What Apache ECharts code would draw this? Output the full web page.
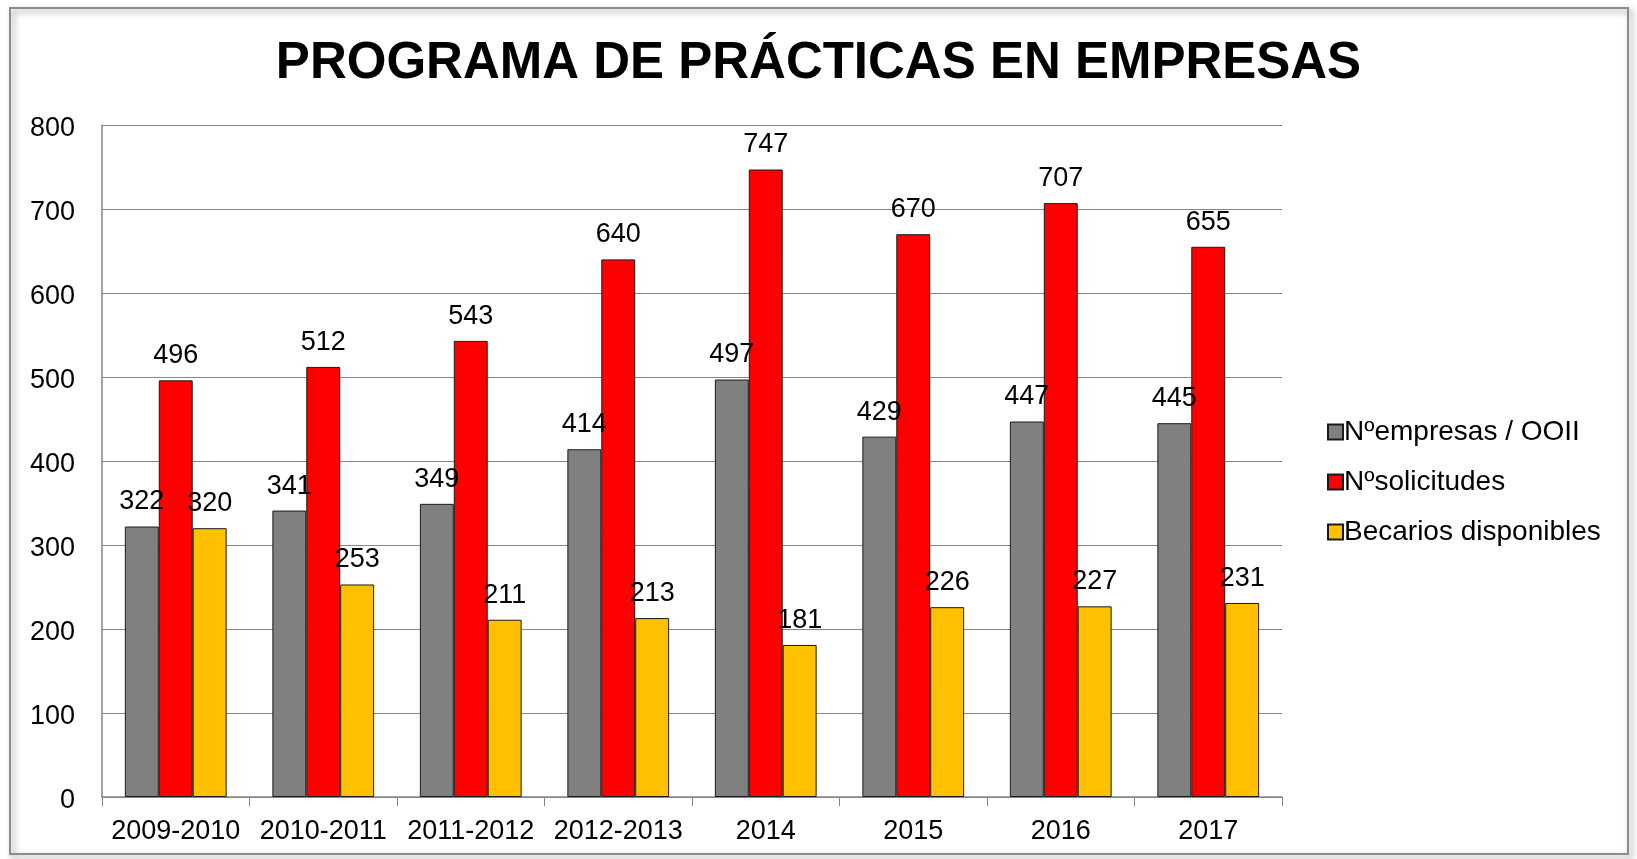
<!DOCTYPE html>
<html>

<head>
	<meta charset="UTF-8">
	<title>Programa de prácticas en empresas</title>
	<style>
		html, body {
			margin: 0;
			padding: 0;
			background: #fff;
		}
		#chart1 {
			width: 1637px;
			height: 859px;
		}
	</style>
	<script src="https://cdn.jsdelivr.net/npm/echarts@6/dist/echarts.min.js"></script>
</head>

<body>
	<div id="chart1"></div>
	<script>
		var cursos = ['2009-2010', '2010-2011', '2011-2012', '2012-2013', '2014', '2015', '2016', '2017'];
		var empresas = [322, 341, 349, 414, 497, 429, 447, 445];
		var solicitudes = [496, 512, 543, 640, 747, 670, 707, 655];
		var becarios = [320, 253, 211, 213, 181, 226, 227, 231];

		var fuente = 'Liberation Sans';

		function serie(nombre, datos, color) {
			return {
				name: nombre,
				type: 'bar',
				data: datos,
				barGap: '0%',
				barCategoryGap: '31%',
				itemStyle: {
					color: color,
					borderColor: '#1a1a1a',
					borderWidth: 1
				},
				label: {
					show: true,
					position: 'top',
					distance: 11,
					color: '#000',
					fontFamily: fuente,
					fontSize: 27
				}
			};
		}

		var myChart = echarts.init(document.getElementById('chart1'));
		myChart.setOption({
			animation: false,
			backgroundColor: '#fff',
			graphic: [{
				type: 'rect',
				shape: { x: 10, y: 8, width: 1618, height: 846 },
				style: {
					fill: 'none',
					stroke: '#8c8c8c',
					lineWidth: 2,
					shadowBlur: 6,
					shadowOffsetX: 3,
					shadowOffsetY: 3,
					shadowColor: 'rgba(0,0,0,0.45)'
				},
				z: -10
			}],
			title: {
				text: 'PROGRAMA DE PRÁCTICAS EN EMPRESAS',
				left: 'center',
				top: 33,
				textStyle: {
					fontFamily: fuente,
					fontWeight: 'bold',
					fontSize: 51,
					color: '#000'
				}
			},
			legend: {
				orient: 'vertical',
				left: 1322,
				top: 413,
				itemWidth: 15,
				itemHeight: 15,
				itemGap: 22,
				icon: 'rect',
				textStyle: {
					fontFamily: fuente,
					fontSize: 28,
					color: '#000',
					padding: [0, 0, 0, -4]
				}
			},
			grid: {
				left: 102,
				right: 355,
				top: 125,
				bottom: 62,
				containLabel: false
			},
			xAxis: {
				type: 'category',
				data: cursos,
				axisLine: { lineStyle: { color: '#868686', width: 1.5 } },
				axisTick: { show: true, interval: 0, length: 9, lineStyle: { color: '#868686' } },
				axisLabel: {
					interval: 0,
					color: '#000',
					fontFamily: fuente,
					fontSize: 27,
					margin: 21
				}
			},
			yAxis: {
				type: 'value',
				min: 0,
				max: 800,
				interval: 100,
				axisLine: { show: true, lineStyle: { color: '#868686', width: 1.5 } },
				axisTick: { show: false },
				splitLine: { lineStyle: { color: '#868686', width: 1.2 } },
				axisLabel: {
					color: '#000',
					fontFamily: fuente,
					fontSize: 27,
					margin: 27,
					formatter: '{v|{value}}',
					rich: {
						v: {
							fontFamily: fuente,
							fontSize: 27,
							color: '#000',
							padding: [8, 0, 0, 0]
						}
					}
				}
			},
			series: [
				serie('Nºempresas / OOII', empresas, '#808080'),
				serie('Nºsolicitudes', solicitudes, '#ff0000'),
				serie('Becarios disponibles', becarios, '#ffc000')
			]
		});
	</script>
</body>

</html>
